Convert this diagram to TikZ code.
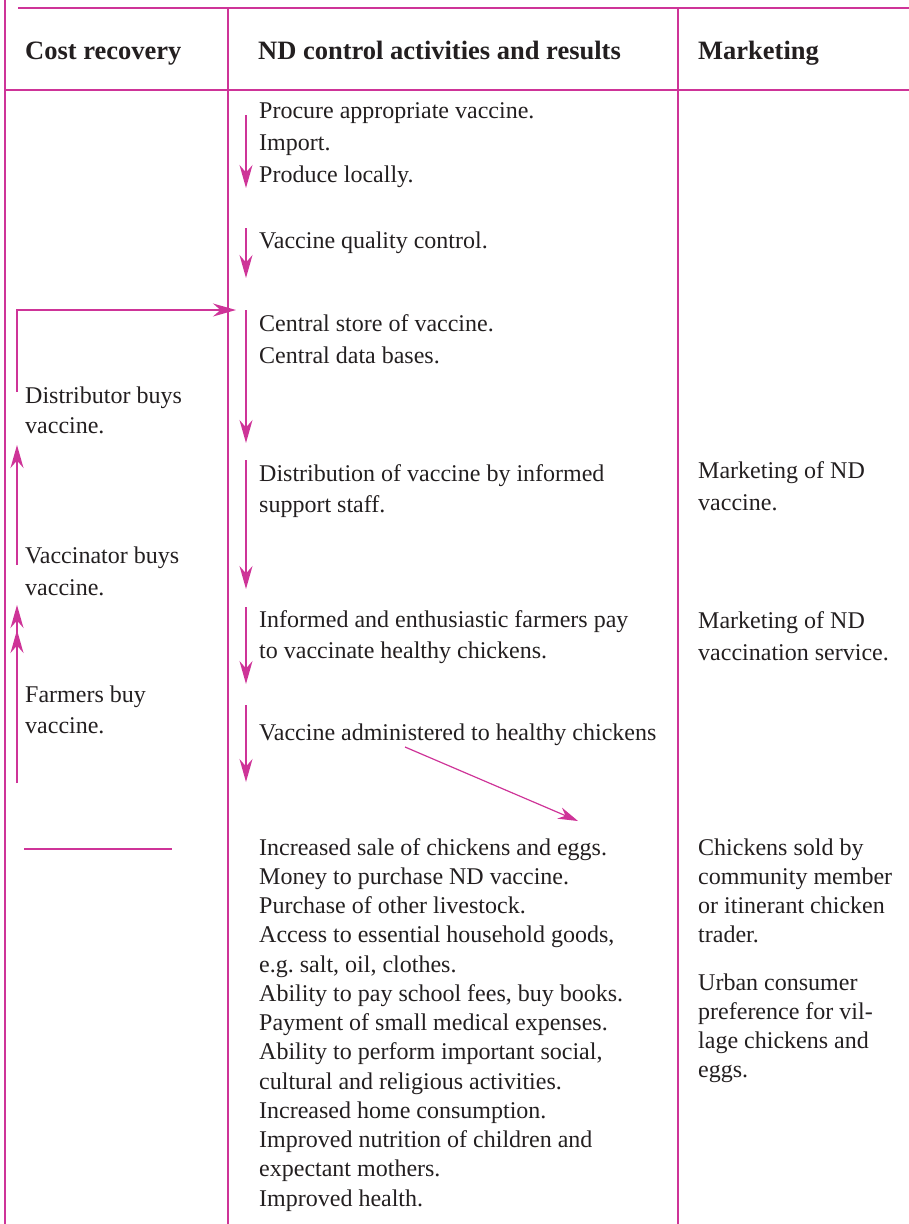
\documentclass[tikz,border=0pt]{standalone}
\usepackage{fontspec}
\setmainfont{Liberation Serif}
\usetikzlibrary{arrows.meta}
\definecolor{mag}{RGB}{206,52,152}
\definecolor{ink}{RGB}{35,31,32}
\tikzset{
  rule/.style={draw=mag, line width=1.6pt},
  arr/.style={draw=mag, line width=1.5pt, -{Stealth[length=23pt,width=13pt]}},
  arrtwo/.style={draw=mag, line width=1.5pt, -{Stealth[length=23pt,width=13pt,sep=2pt]Stealth[length=23pt,width=13pt]}},
  diag/.style={draw=mag, line width=1.2pt, -{Stealth[length=20pt,width=12pt]}},
  txt/.style={anchor=base west, inner sep=0pt, align=left, text=ink, font=\fontsize{24}{32}\selectfont},
  lst/.style={txt, font=\fontsize{24}{29.25}\selectfont},
  rlst/.style={txt, font=\fontsize{24}{29}\selectfont},
  head/.style={anchor=base west, inner sep=0pt, text=ink, font=\fontsize{26.5}{30}\selectfont\bfseries},
}
\begin{document}
\begin{tikzpicture}[x=1pt, y=-1pt]
\useasboundingbox (0,0) rectangle (909,1224);
% frame rules
\coordinate (fl1) at (5,0);    \coordinate (fl2) at (5,1224);
\coordinate (tl1) at (18,8);   \coordinate (tl2) at (909,8);
\coordinate (hl1) at (5,90); \coordinate (hl2) at (909,90);
\coordinate (c1a) at (228,8);  \coordinate (c1b) at (228,1224);
\coordinate (c2a) at (678,8);  \coordinate (c2b) at (678,1224);
\coordinate (sl1) at (24,849);   \coordinate (sl2) at (172,849);
\draw[rule] (fl1) -- (fl2);
\draw[rule] (tl1) -- (tl2);
\draw[rule] (hl1) -- (hl2);
\draw[rule] (c1a) -- (c1b);
\draw[rule] (c2a) -- (c2b);
\draw[rule] (sl1) -- (sl2);

% headers
\node[head] (h1) at (25,59) {Cost recovery};
\node[head] (h2) at (258,59) {ND control activities and results};
\node[head] (h3) at (698,59) {Marketing};

% middle column (anchor = baseline of last line)
\node[txt] (m1) at (259,182) {Procure appropriate vaccine.\\Import.\\Produce locally.};
\node[txt] (m2) at (259,248) {Vaccine quality control.};
\node[txt] (m3) at (259,363) {Central store of vaccine.\\Central data bases.};
\node[txt, font=\fontsize{24}{31}\selectfont] (m4) at (259,512) {Distribution of vaccine by informed\\support staff.};
\node[txt, font=\fontsize{24}{31}\selectfont] (m5) at (259,658) {Informed and enthusiastic farmers pay\\to vaccinate healthy chickens.};
\node[txt] (m6) at (259,740) {Vaccine administered to healthy chickens};
\node[lst] (m7) at (259,1206) {Increased sale of chickens and eggs.\\Money to purchase ND vaccine.\\Purchase of other livestock.\\Access to essential household goods,\\e.g.\ salt, oil, clothes.\\Ability to pay school fees, buy books.\\Payment of small medical expenses.\\Ability to perform important social,\\cultural and religious activities.\\Increased home consumption.\\Improved nutrition of children and\\expectant mothers.\\Improved health.};

% right column
\node[txt] (r1) at (698,510) {Marketing of ND\\vaccine.};
\node[txt] (r2) at (698,660) {Marketing of ND\\vaccination service.};
\node[rlst] (r3) at (698,942) {Chickens sold by\\community member\\or itinerant chicken\\trader.};
\node[rlst] (r4) at (698,1077) {Urban consumer\\preference for vil-\\lage chickens and\\eggs.};

% left column
\node[txt, font=\fontsize{24}{30}\selectfont] (l1) at (25,433) {Distributor buys\\vaccine.};
\node[txt] (l2) at (25,595) {Vaccinator buys\\vaccine.};
\node[txt, font=\fontsize{24}{31}\selectfont] (l3) at (25,733) {Farmers buy\\vaccine.};

% middle column arrows
\coordinate (a1s) at (246,115); \coordinate (a1e) at (246,188);
\coordinate (a2s) at (246,228); \coordinate (a2e) at (246,278);
\coordinate (a3s) at (246,310); \coordinate (a3e) at (246,443);
\coordinate (a4s) at (246,460); \coordinate (a4e) at (246,589);
\coordinate (a5s) at (246,607); \coordinate (a5e) at (246,684);
\coordinate (a6s) at (246,705); \coordinate (a6e) at (246,782);
\draw[arr] (a1s) -- (a1e);
\draw[arr] (a2s) -- (a2e);
\draw[arr] (a3s) -- (a3e);
\draw[arr] (a4s) -- (a4e);
\draw[arr] (a5s) -- (a5e);
\draw[arr] (a6s) -- (a6e);
\coordinate (ds) at (405,747); \coordinate (de) at (578,821);
\draw[diag] (ds) -- (de);

% left column arrows
\coordinate (b1s) at (17,392); \coordinate (b1e) at (236,310);
\draw[arr] (b1s) |- (b1e);
\coordinate (b2s) at (17,565); \coordinate (b2e) at (17,445);
\draw[arr] (b2s) -- (b2e);
\coordinate (b3s) at (17,783); \coordinate (b3e) at (17,605);
\draw[arrtwo] (b3s) -- (b3e);
\end{tikzpicture}
\end{document}
